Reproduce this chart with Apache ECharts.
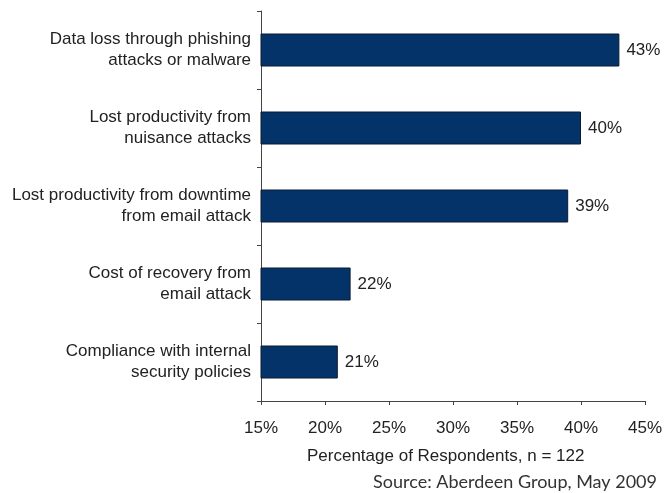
<!DOCTYPE html>
<html>
<head>
<meta charset="utf-8">
<script src="https://cdn.jsdelivr.net/npm/echarts@6/dist/echarts.min.js"></script>
<style>
html,body{margin:0;padding:0;background:#fff;}
#chart{width:665px;height:493px;}
</style>
</head>
<body>
<div id="chart"></div>
<script>
const categories = [
  "Data loss through phishing\nattacks or malware",
  "Lost productivity from\nnuisance attacks",
  "Lost productivity from downtime\nfrom email attack",
  "Cost of recovery from\nemail attack",
  "Compliance with internal\nsecurity policies"
];
const values = [43, 40, 39, 22, 21];
const xTicks = [15, 20, 25, 30, 35, 40, 45];
const xAxisTitle = "Percentage of Respondents, n = 122";
const sourceText = "Source: Aberdeen Group, May 2009";

const chart = echarts.init(document.getElementById('chart'), null, {renderer: 'canvas'});
const font = "'Liberation Sans', Arial, sans-serif";
chart.setOption({
  animation: false,
  backgroundColor: '#fff',
  grid: {left: 261, right: 17, top: 11, bottom: 92, containLabel: false},
  xAxis: {
    type: 'value',
    min: xTicks[0],
    max: xTicks[xTicks.length - 1],
    interval: 5,
    axisLine: {show: true, lineStyle: {color: '#444', width: 1}},
    axisTick: {show: true, length: 4, lineStyle: {color: '#444'}},
    splitLine: {show: false},
    axisLabel: {
      formatter: v => v + '%',
      fontFamily: font, fontSize: 17, color: '#222', margin: 19
    }
  },
  yAxis: {
    type: 'category',
    data: categories,
    inverse: true,
    axisLine: {show: true, lineStyle: {color: '#444', width: 1}},
    axisTick: {show: true, length: 4, lineStyle: {color: '#444'}},
    axisLabel: {
      fontFamily: font, fontSize: 17, color: '#222', margin: 10,
      lineHeight: 21, align: 'right'
    }
  },
  series: [{
    type: 'bar',
    data: values,
    barWidth: 33,
    itemStyle: {color: '#04336a', borderColor: '#0a1a30', borderWidth: 1},
    label: {
      show: true, position: 'right', distance: 7,
      formatter: p => p.value + '%',
      fontFamily: font, fontSize: 17, color: '#222'
    }
  }],
  graphic: [
    {type: 'text', left: 447 - 140, top: 448,
     style: {text: xAxisTitle, font: "17px 'Liberation Sans', Arial, sans-serif", fill: '#222', textAlign: 'center', x: 140}},
    {type: 'text', right: 8, top: 473,
     style: {text: sourceText, font: "18px Lato, 'Open Sans', sans-serif", fill: '#333'}}
  ]
});
</script>
</body>
</html>
